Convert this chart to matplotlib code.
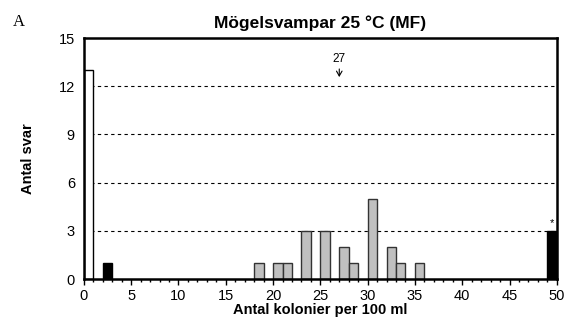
import numpy as np
import matplotlib.pyplot as plt
from matplotlib.ticker import MultipleLocator

# bins (left edge, width 1) and counts
white_x = [0]
white_n = [13]
black_x = [2, 49]
black_n = [1, 3]
gray_x = [18, 20, 21, 23, 25, 27, 28, 30, 32, 33, 35]
gray_n = [1, 1, 1, 3, 3, 2, 1, 5, 2, 1, 1]
median_val = 27
yticks = [0, 3, 6, 9, 12, 15]
xticks = list(range(0, 51, 5))

plt.rcParams['font.family'] = ['Liberation Sans', 'DejaVu Sans']

fig = plt.figure(figsize=(5.67, 3.2), dpi=100)
ax = fig.add_axes([0.148, 0.128, 0.834, 0.753])

for y in yticks[1:-1]:
    ax.axhline(y, color='black', linestyle=(0, (3, 3)), linewidth=0.8, zorder=1)

ax.bar(white_x, white_n, width=1, align='edge', color='white', edgecolor='black', linewidth=1, zorder=2)
ax.bar(black_x, black_n, width=1, align='edge', color='black', edgecolor='black', linewidth=1, zorder=2)
ax.bar(gray_x, gray_n, width=1, align='edge', color='#c0c0c0', edgecolor='#333333', linewidth=1, zorder=2)

ax.text(black_x[-1] + 0.5, black_n[-1] + 0.15, '*', ha='center', va='bottom', fontsize=8)
ax.text(median_val, 13.3, str(median_val), ha='center', va='bottom', fontsize=8.5)
ax.annotate('', xy=(median_val, 12.4), xytext=(median_val, 13.25),
            arrowprops=dict(arrowstyle='->,head_length=0.35,head_width=0.2', color='black', lw=0.8))

ax.set_xlim(0, 50)
ax.set_ylim(0, 15)
ax.set_xticks(xticks)
ax.xaxis.set_minor_locator(MultipleLocator(1))
ax.set_yticks(yticks)
ax.tick_params(axis='x', which='major', length=4, width=1, labelsize=10.5, pad=3)
ax.tick_params(axis='x', which='minor', length=2.5, width=1)
ax.tick_params(axis='y', length=0, labelsize=10.5, pad=6.5)
for s in ax.spines.values():
    s.set_linewidth(1.8)

ax.set_title('Mögelsvampar 25 °C (MF)', fontsize=12.5, fontweight='bold', pad=7)
ax.set_xlabel('Antal kolonier per 100 ml', fontsize=10.5, fontweight='bold', labelpad=0)
ax.set_ylabel('Antal svar', fontsize=10.5, fontweight='bold', labelpad=17)
fig.text(0.023, 0.93, 'A', fontsize=12, family='Liberation Serif', ha='left', va='center')

fig.savefig('out.png', dpi=100)
